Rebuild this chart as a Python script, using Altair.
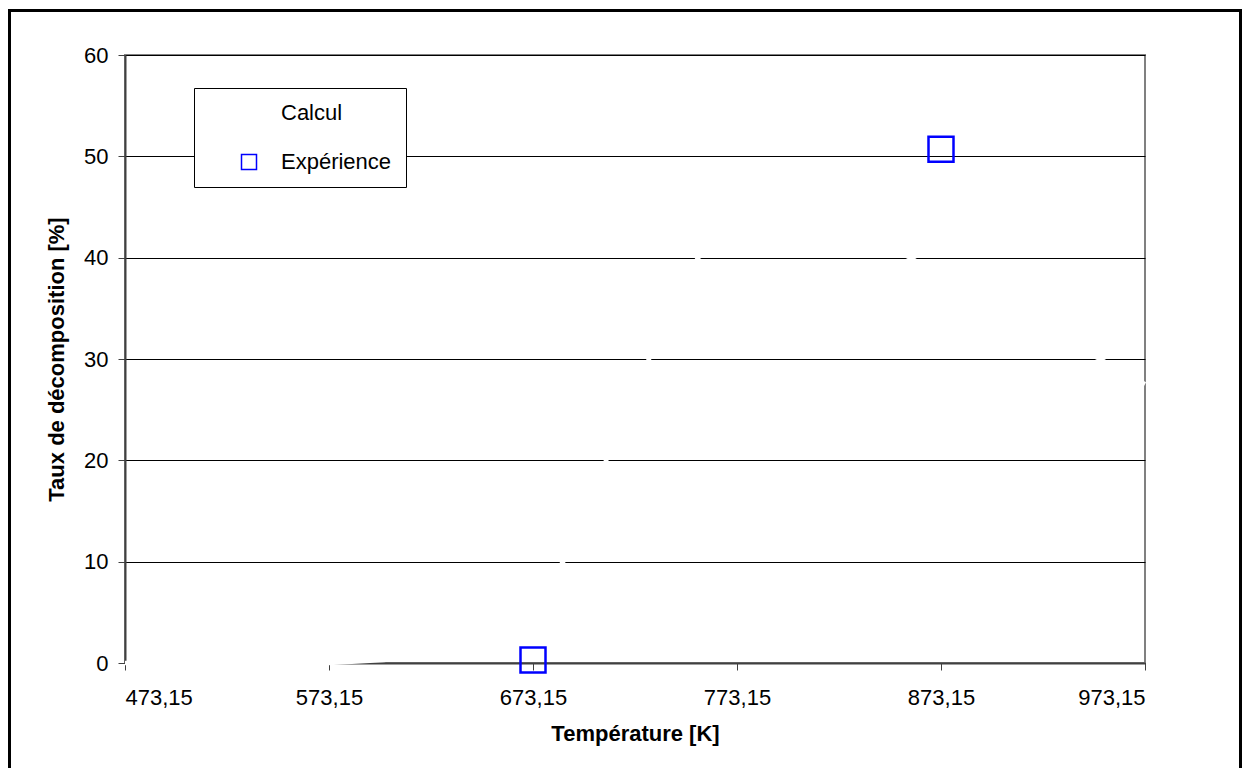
import altair as alt
import pandas as pd

FONT = "Liberation Sans"

# Series names
series_names = ["Calcul", "Expérience"]

# "Calcul" curve (drawn in white in the reference)
calc_T = [473.15, 523.15, 573.15, 600.0, 620.0, 640.0, 655.0, 665.0, 675.0, 688.0,
          698.0, 709.0, 730.0, 740.0, 754.0, 770.0, 790.0, 805.0, 820.0, 840.0,
          858.0, 880.0, 910.0, 951.0, 973.15]
calc_V = [0.0, 0.0, 0.0, 0.3, 0.8, 1.8, 3.0, 4.5, 6.5, 10.0,
          14.5, 20.0, 30.0, 35.0, 40.0, 42.3, 43.5, 43.6, 43.0, 41.8,
          40.0, 37.5, 34.2, 30.0, 27.5]

# "Expérience" points
exp_T = [673.15, 873.15]
exp_V = [0.3, 50.7]

x_ticks = [473.15, 573.15, 673.15, 773.15, 873.15, 973.15]
y_ticks = [0, 10, 20, 30, 40, 50, 60]

df_calc = pd.DataFrame({"T": calc_T, "V": calc_V, "series": series_names[0]})
df_exp = pd.DataFrame({"T": exp_T, "V": exp_V, "series": series_names[1]})
df_frame = pd.DataFrame({"k": [0]})

x_scale = alt.Scale(domain=[473.15, 973.15], nice=False, zero=False)
y_scale = alt.Scale(domain=[0, 60], nice=False)

x_axis = alt.Axis(
    values=x_ticks,
    labelExpr="replace(format(datum.value, '.2f'), '.', ',')",
    title="Température [K]",
    grid=False,
    tickSize=7,
    labelPadding=17,
    titlePadding=15,
)
y_axis = alt.Axis(
    values=y_ticks,
    title="Taux de décomposition [%]",
    grid=True,
    tickSize=7,
    labelPadding=10,
    titlePadding=15,
)

frame = alt.Chart(df_frame).mark_rect(
    fill=None, stroke="black", strokeWidth=3
).encode(
    x=alt.value(-115.5), x2=alt.value(1115.5),
    y=alt.value(-44.5), y2=alt.value(740),
)

line = alt.Chart(df_calc).mark_line(strokeWidth=4.5, color="white").encode(
    x=alt.X("T:Q", scale=x_scale, axis=x_axis),
    y=alt.Y("V:Q", scale=y_scale, axis=y_axis),
    order="T:Q",
)

points = alt.Chart(df_exp).mark_point(
    shape="square", filled=False, size=625, strokeWidth=2.5, opacity=1
).encode(
    x=alt.X("T:Q", scale=x_scale),
    y=alt.Y("V:Q", scale=y_scale),
    color=alt.Color(
        "series:N",
        scale=alt.Scale(domain=series_names, range=["white", "#0000FF"]),
        legend=alt.Legend(
            title=None,
            orient="none",
            legendX=69,
            legendY=33,
            fillColor="white",
            strokeColor="black",
            padding=14,
            symbolType="square",
            symbolSize=225,
            symbolStrokeWidth=1.5,
            symbolOffset=30,
            labelOffset=21,
            labelFontSize=22,
            labelFont=FONT,
            labelColor="black",
            rowPadding=27,
            labelLimit=400,
        ),
    ),
)

chart = alt.layer(frame, line, points).properties(
    width=1020,
    height=608,
    background="white",
    autosize=alt.AutoSizeParams(type="none"),
    padding={"left": 117, "top": 47, "right": 97, "bottom": 105},
).configure_view(
    stroke="#808080", strokeWidth=2
).configure_axis(
    labelFont=FONT,
    labelFontSize=22,
    labelColor="black",
    titleFont=FONT,
    titleFontSize=22,
    titleFontWeight="bold",
    titleColor="black",
    domainColor="#404040",
    domainWidth=2,
    tickColor="#404040",
    tickWidth=1,
    gridColor="black",
    gridWidth=1,
    gridOpacity=1,
)

chart.save("out.html", embed_options={"renderer": "svg", "actions": False})
